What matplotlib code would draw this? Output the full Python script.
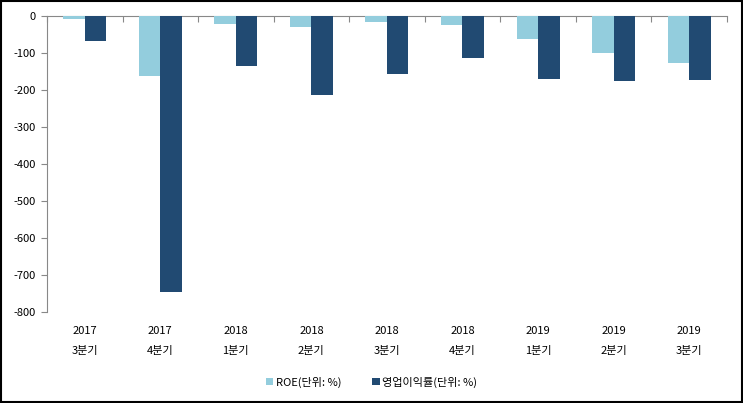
import numpy as np
import matplotlib.pyplot as plt
from matplotlib.patches import Rectangle

plt.rcParams['font.family'] = ['Noto Sans CJK KR', 'DejaVu Sans']
plt.rcParams['axes.unicode_minus'] = False

years = ["2017", "2017", "2018", "2018", "2018", "2018", "2019", "2019", "2019"]
quarters = ["3분기", "4분기", "1분기", "2분기", "3분기", "4분기", "1분기", "2분기", "3분기"]

# values (%)
roe = [-8, -162, -22, -30, -16, -24, -62, -99, -126]
op_margin = [-67, -746, -135, -214, -157, -114, -170, -175, -173]

fig = plt.figure(figsize=(7.43, 4.03), dpi=100)
ax = fig.add_axes([0.0633, 0.2258, 0.915, 0.7345])

x = np.arange(len(years))
w = 0.285
ax.bar(x - w / 2, roe, w, color="#93CDDD", label="ROE(단위: %)")
ax.bar(x + w / 2, op_margin, w, color="#214A72", label="영업이익률(단위: %)")

ax.set_xlim(-0.5, len(years) - 0.5)
ax.set_ylim(-800, 0)
ax.set_yticks(np.arange(-800, 1, 100))
ax.tick_params(axis="y", labelsize=8, length=4, color="#888888", pad=4)

# category labels at the bottom, no ticks there
ax.set_xticks(x)
ax.set_xticklabels([f"{y}\n{q}" for y, q in zip(years, quarters)],
                   fontsize=8, linespacing=2.3)
ax.tick_params(axis="x", which="major", length=0, pad=10)

# boundary ticks hanging from the zero line
sec = ax.secondary_xaxis("top")
sec.set_xticks(np.arange(-0.5, len(years), 1.0))
sec.set_xticklabels([])
sec.tick_params(direction="in", length=4, color="#888888")
sec.spines["top"].set_color("#888888")

for s in ["right", "bottom", "top"]:
    ax.spines[s].set_visible(False)
ax.spines["left"].set_color("#888888")

fig.legend(loc="center", bbox_to_anchor=(0.5, 1 - 382 / 403), ncol=2,
           frameon=False, fontsize=8, handlelength=0.7, handleheight=0.7,
           handletextpad=0.2, columnspacing=2.8)

fig.patches.append(Rectangle((0.0015, 0.0025), 0.997, 0.995, transform=fig.transFigure,
                             fill=False, edgecolor="black", linewidth=1.5))

fig.savefig("out.png", dpi=100)
